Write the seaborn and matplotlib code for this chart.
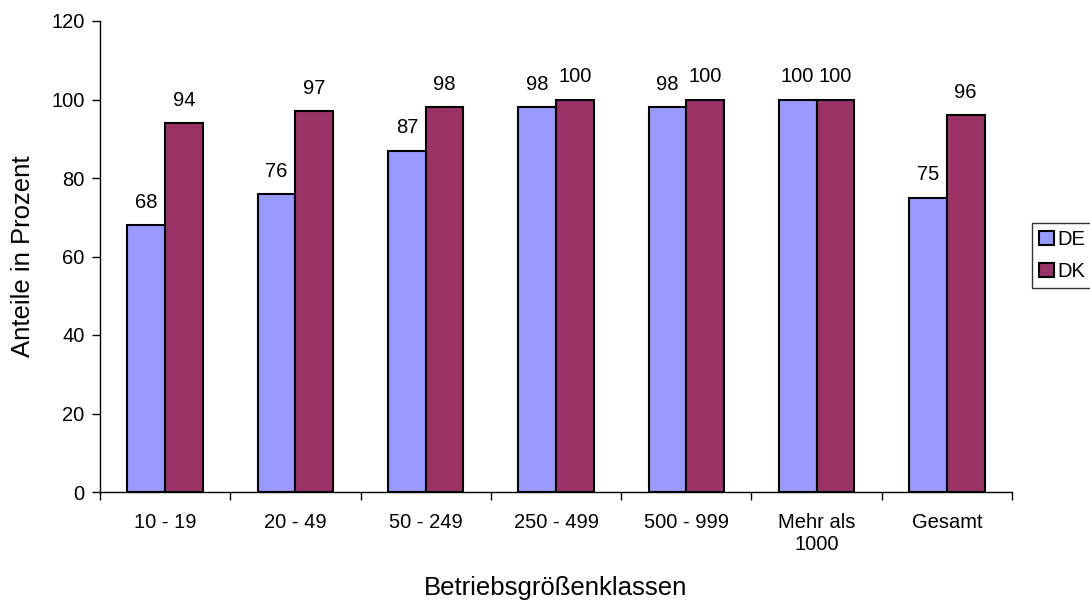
import matplotlib
matplotlib.use("Agg")
import matplotlib.pyplot as plt
from matplotlib.patches import Patch
import seaborn as sns
import pandas as pd
import numpy as np

categories = ["10 - 19", "20 - 49", "50 - 249", "250 - 499", "500 - 999", "Mehr als\n1000", "Gesamt"]
de_values = [68, 76, 87, 98, 98, 100, 75]
dk_values = [94, 97, 98, 100, 100, 100, 96]
series = ["DE", "DK"]
colors = {"DE": "#9999FF", "DK": "#993366"}

df = pd.DataFrame({
    "Klasse": categories * 2,
    "Wert": de_values + dk_values,
    "Land": ["DE"] * len(categories) + ["DK"] * len(categories),
})

sns.set_style("white")
plt.rcParams["font.family"] = ["Liberation Sans", "DejaVu Sans"]
plt.rcParams["text.color"] = "black"
plt.rcParams["axes.labelcolor"] = "black"
plt.rcParams["xtick.color"] = "black"
plt.rcParams["ytick.color"] = "black"

FS = 14.5

fig = plt.figure(figsize=(10.9, 6.05), dpi=100)
ax = fig.add_axes([100 / 1090, 1 - 492 / 605, 912 / 1090, 471 / 605])

sns.barplot(data=df, x="Klasse", y="Wert", hue="Land", hue_order=series,
            order=categories, palette=colors, width=0.58, gap=0,
            edgecolor="black", linewidth=1.5, saturation=1, ax=ax, legend=False)

for container in ax.containers:
    ax.bar_label(container, fmt="%d", padding=9.5, fontsize=FS, color="black")

ax.set_ylim(0, 120)
ax.set_yticks(np.arange(0, 121, 20))
ax.set_yticklabels([str(v) for v in range(0, 121, 20)], fontsize=FS)
ax.set_xlim(-0.5, len(categories) - 0.5)

# category boundaries carry the tick marks; labels sit at the centres
ax.set_xticks(np.arange(-0.5, len(categories), 1.0))
ax.set_xticklabels([])
ax.set_xticks(np.arange(len(categories)), minor=True)
ax.set_xticklabels(categories, minor=True, fontsize=FS)
ax.tick_params(axis="x", which="major", direction="out", length=6, width=1, color="black", bottom=True)
ax.tick_params(axis="x", which="minor", length=0, pad=15)
ax.tick_params(axis="y", direction="out", length=6, width=1, color="black", left=True, pad=5)

for side in ["top", "right"]:
    ax.spines[side].set_visible(False)
for side in ["left", "bottom"]:
    ax.spines[side].set_color("black")
    ax.spines[side].set_linewidth(1)

ax.set_xlabel("Betriebsgrößenklassen", fontsize=18.5, labelpad=16)
ax.set_ylabel("Anteile in Prozent", fontsize=18.5, labelpad=12)

handles = [Patch(facecolor=colors[s], edgecolor="black", linewidth=1.5, label=s) for s in series]
fig.legend(handles=handles, loc="upper left", bbox_to_anchor=(1032 / 1090, 1 - 223 / 605),
           frameon=True, fancybox=False, edgecolor="black", fontsize=FS,
           handlelength=0.75, handleheight=0.75, handletextpad=0.15, borderpad=0.35,
           labelspacing=0.65, borderaxespad=0)

fig.savefig("out.png", dpi=100)
